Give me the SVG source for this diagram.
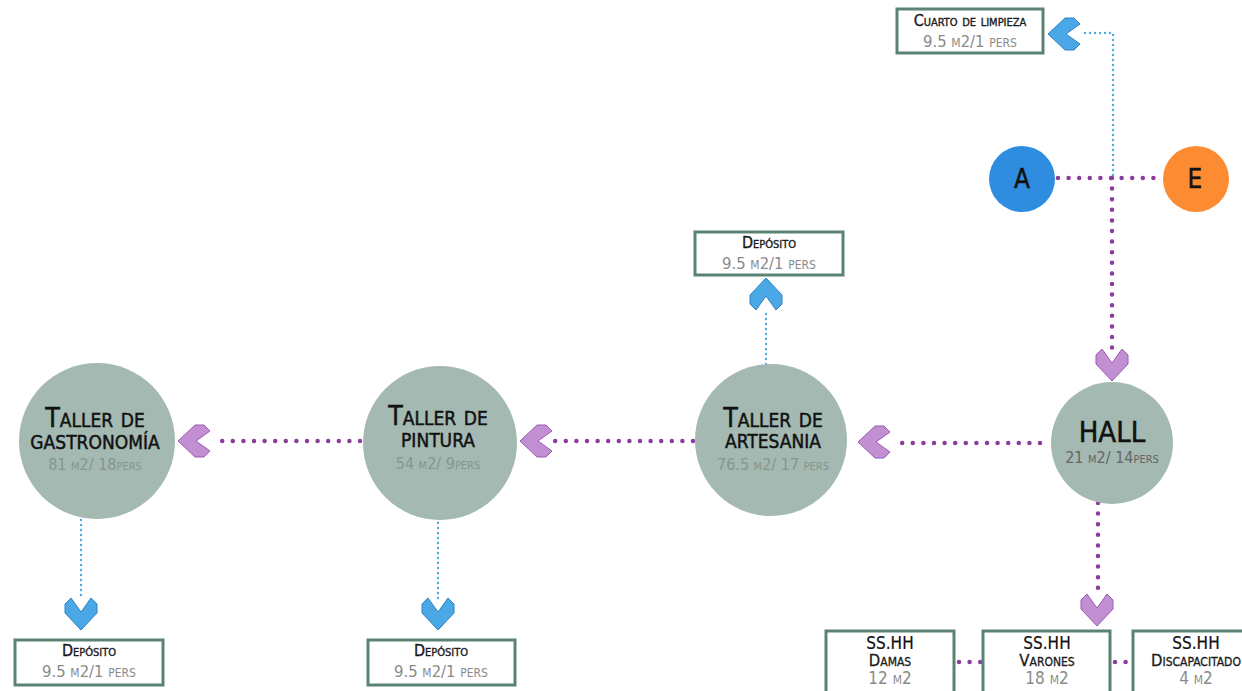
<svg xmlns="http://www.w3.org/2000/svg" xmlns:xlink="http://www.w3.org/1999/xlink" width="1242" height="691" viewBox="0 0 1242 691">
<style>
.bg{fill:#ffffff}
.room{fill:#a3b9b2}
.box{fill:#ffffff;stroke:#5b8373;stroke-width:3}
.pd{fill:none;stroke:#8b3d9e;stroke-width:4.5;stroke-linecap:round;stroke-dasharray:0 10.6}
.bd{fill:none;stroke:#4ba9e6;stroke-width:2.4;stroke-linecap:round;stroke-dasharray:0 5}
.cb{fill:#4aa8e6;stroke:#2d82c6;stroke-width:1}
.cp{fill:#c38fd3;stroke:#9a5cb3;stroke-width:1}
text{font-family:"DejaVu Sans Condensed","Liberation Sans Narrow","DejaVu Sans",sans-serif;text-anchor:middle}
.t1{font-size:26.5px;font-variant:small-caps;fill:#111;stroke:#111;stroke-width:0.45}
.sub{font-size:16px;font-variant:small-caps;fill:#88958f}
.bt{font-size:16px;font-variant:small-caps;fill:#1a1a1a;stroke:#1a1a1a;stroke-width:0.35}
.bs{font-size:16.5px;font-variant:small-caps;fill:#8a8a8a}
.ss{font-size:17px;fill:#111;stroke:#111;stroke-width:0.2}
.ssb{font-size:16.5px;font-variant:small-caps;fill:#1a1a1a;stroke:#1a1a1a;stroke-width:0.3}
.ssn{font-size:17px;font-variant:small-caps;fill:#8a8a8a}
</style>
<defs>
<path id="chev" d="M-16,-10 L-10,-16 L0,-2 L10,-16 L16,-10 L16,-1 L0,16 L-16,-1 Z"/>
</defs>
<rect class="bg" x="0" y="0" width="1242" height="691"/>

<g id="connectors">
<path class="pd" d="M1058,178 H1164"/>
<path class="pd" d="M1112,178 V350"/>
<path class="pd" d="M1040,443 H892"/>
<path class="pd" d="M693,441 H554"/>
<path class="pd" d="M360,441 H212"/>
<path class="pd" d="M1098,503 V594"/>
<path class="pd" d="M959,662 H982"/>
<path class="pd" d="M1115,662 H1132"/>
<path class="bd" d="M1113,175 V33 H1083"/>
<path class="bd" d="M766,364 V313"/>
<path class="bd" d="M81,515 V599"/>
<path class="bd" d="M438,518 V599"/>
<use href="#chev" class="cb" transform="translate(1064,34) rotate(90)"/>
<use href="#chev" class="cb" transform="translate(766,294) rotate(180)"/>
<use href="#chev" class="cb" transform="translate(81,614)"/>
<use href="#chev" class="cb" transform="translate(438,614)"/>
<use href="#chev" class="cp" transform="translate(1112,365)"/>
<use href="#chev" class="cp" transform="translate(1097,610)"/>
<use href="#chev" class="cp" transform="translate(874,442) rotate(90)"/>
<use href="#chev" class="cp" transform="translate(536,441) rotate(90)"/>
<use href="#chev" class="cp" transform="translate(194,441) rotate(90)"/>
</g>

<g id="cuarto-limpieza">
<rect class="box" x="897" y="9" width="146" height="44"/>
<text class="bt" x="970" y="26">Cuarto de limpieza</text>
<text class="bs" x="970" y="47">9.5 m2/1 pers</text>
</g>

<g id="node-a">
<circle cx="1022" cy="179" r="33" fill="#2e8ddf"/>
<text x="1022" y="188" font-size="26" fill="#111" stroke="#111" stroke-width="0.4">A</text>
</g>
<g id="node-e">
<circle cx="1196" cy="179" r="33" fill="#fd8b31"/>
<text x="1195" y="188" font-size="26" fill="#111" stroke="#111" stroke-width="0.4">E</text>
</g>

<g id="hall">
<circle class="room" cx="1112" cy="443" r="61"/>
<text x="1112" y="442" font-size="29" fill="#111" stroke="#111" stroke-width="0.5">HALL</text>
<text x="1112" y="463" font-size="16" font-variant="small-caps" fill="#666">21 m2/  14pers</text>
</g>

<g id="taller-artesania">
<circle class="room" cx="771" cy="440" r="76"/>
<text class="t1" x="773" y="427">Taller de</text>
<text class="t1" x="773" y="448">artesania</text>
<text class="sub" x="773" y="470">76.5 m2/ 17 pers</text>
</g>

<g id="taller-pintura">
<circle class="room" cx="440" cy="443" r="77"/>
<text class="t1" x="438" y="425">Taller de</text>
<text class="t1" x="438" y="447">pintura</text>
<text class="sub" x="438" y="469">54 m2/ 9pers</text>
</g>

<g id="taller-gastronomia">
<circle class="room" cx="97" cy="441" r="78"/>
<text class="t1" x="95" y="427">Taller de</text>
<text class="t1" x="95" y="449">gastronomía</text>
<text class="sub" x="95" y="470">81 m2/ 18pers</text>
</g>

<g id="deposito-artesania">
<rect class="box" x="695" y="232" width="148" height="43"/>
<text class="bt" x="769" y="248">Depósito</text>
<text class="bs" x="769" y="269">9.5 m2/1 pers</text>
</g>

<g id="deposito-gastronomia">
<rect class="box" x="15" y="640" width="148" height="45"/>
<text class="bt" x="89" y="656">Depósito</text>
<text class="bs" x="89" y="677">9.5 m2/1 pers</text>
</g>

<g id="deposito-pintura">
<rect class="box" x="368" y="640" width="147" height="45"/>
<text class="bt" x="441" y="656">Depósito</text>
<text class="bs" x="441" y="677">9.5 m2/1 pers</text>
</g>

<g id="sshh-damas">
<rect class="box" x="826" y="631" width="128" height="70"/>
<text class="ss" x="890" y="649">SS.HH</text>
<text class="ssb" x="890" y="666">Damas</text>
<text class="ssn" x="890" y="684">12 m2</text>
</g>

<g id="sshh-varones">
<rect class="box" x="983" y="631" width="127" height="70"/>
<text class="ss" x="1047" y="649">SS.HH</text>
<text class="ssb" x="1047" y="666">Varones</text>
<text class="ssn" x="1047" y="684">18 m2</text>
</g>

<g id="sshh-discapacitado">
<rect class="box" x="1133" y="631" width="120" height="70"/>
<text class="ss" x="1196" y="649">SS.HH</text>
<text class="ssb" x="1196" y="666">Discapacitado</text>
<text class="ssn" x="1196" y="684">4 m2</text>
</g>
</svg>
